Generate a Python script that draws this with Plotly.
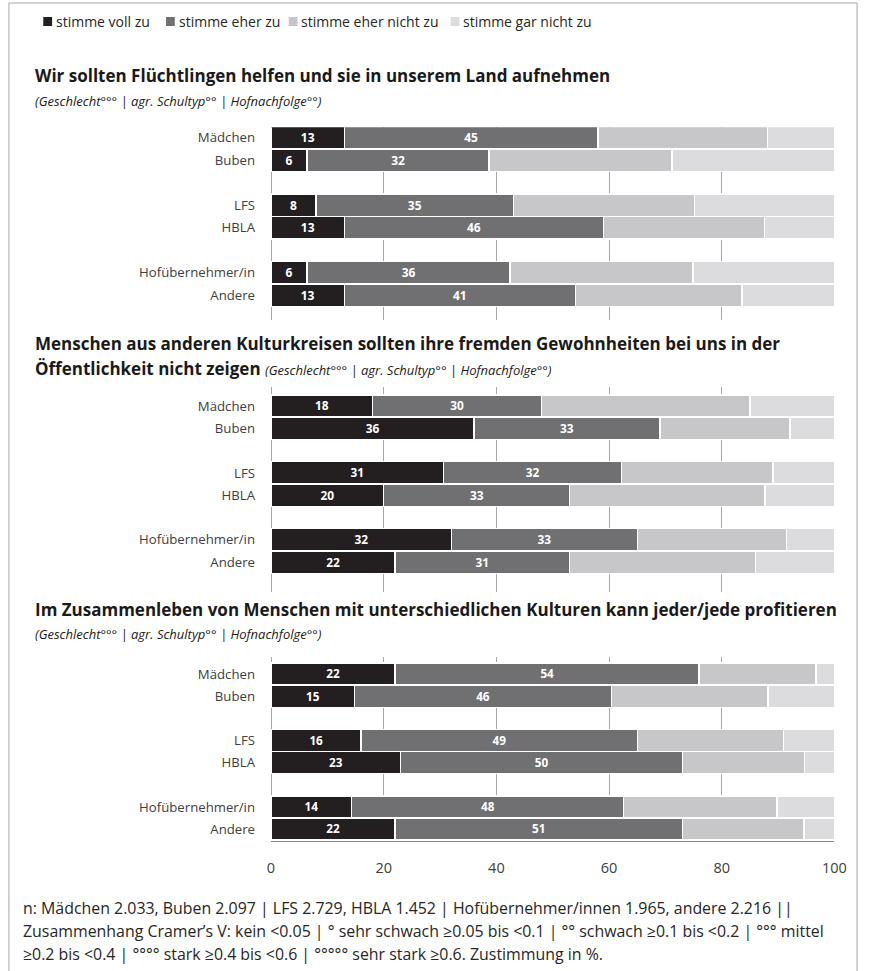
import plotly.graph_objects as go

W, H = 871, 971

categories = ["Mädchen", "Buben", "LFS", "HBLA", "Hofübernehmer/in", "Andere"]
row_pos = [0, 1, 3, 4, 6, 7]
series_names = ["stimme voll zu", "stimme eher zu", "stimme eher nicht zu", "stimme gar nicht zu"]
colors = ["#231F20", "#707073", "#C7C7C9", "#DCDCDE"]
x_ticks = [0, 20, 40, 60, 80, 100]

# Panel 1: Wir sollten Flüchtlingen helfen ...
p1_voll = [13, 6.4, 8, 13, 6.4, 13]
p1_eher = [45, 32.3, 35, 46, 36, 41]
p1_eher_nicht = [30.1, 32.5, 32.2, 28.6, 32.5, 29.6]
p1_gar_nicht = [11.9, 28.8, 24.8, 12.4, 25.1, 16.4]

# Panel 2: Menschen aus anderen Kulturkreisen ...
p2_voll = [18, 36, 30.6, 20, 32, 22]
p2_eher = [30, 33, 31.6, 33, 33, 31]
p2_eher_nicht = [37, 23.1, 26.9, 34.7, 26.5, 33]
p2_gar_nicht = [15, 7.9, 10.9, 12.3, 8.5, 14]

# Panel 3: Im Zusammenleben ...
p3_voll = [22, 14.8, 16, 23, 14.3, 22]
p3_eher = [54, 45.6, 49, 50, 48.3, 51]
p3_eher_nicht = [20.7, 27.8, 26, 21.7, 27.2, 21.6]
p3_gar_nicht = [3.3, 11.8, 9, 5.3, 10.2, 5.4]

panels = [
    [p1_voll, p1_eher, p1_eher_nicht, p1_gar_nicht],
    [p2_voll, p2_eher, p2_eher_nicht, p2_gar_nicht],
    [p3_voll, p3_eher, p3_eher_nicht, p3_gar_nicht],
]

FONT = "Open Sans"
TXT = "#262626"


def px(x):
    return x / W


def py(y):
    return 1 - y / H


fig = go.Figure()

for pi, panel in enumerate(panels):
    suffix = "" if pi == 0 else str(pi + 1)
    for si, vals in enumerate(panel):
        fig.add_trace(go.Bar(
            x=vals, y=row_pos, orientation="h",
            name=series_names[si], showlegend=False,
            marker=dict(color=colors[si], line=dict(color="white", width=1.5)),
            width=1.0,
            texttemplate="%{x:.0f}" if si < 2 else None,
            textposition="inside" if si < 2 else "none",
            insidetextanchor="middle", textangle=0,
            textfont=dict(family=FONT, size=16, color="white", weight="bold"),
            xaxis="x" + suffix, yaxis="y" + suffix,
            hoverinfo="x+y",
        ))

x_dom = [px(272), px(846)]
y_specs = [
    ([py(320), py(127.3)], [8.1, -0.47]),
    ([py(592), py(387)], [8.34, -0.85]),
    ([py(841), py(657)], [7.54, -0.77]),
]

layout = dict(
    width=W, height=H, autosize=False,
    margin=dict(l=0, r=0, t=0, b=0),
    paper_bgcolor="white", plot_bgcolor="white",
    barmode="stack",
    font=dict(family=FONT, color=TXT),
    showlegend=False,
)

for pi in range(3):
    suffix = "" if pi == 0 else str(pi + 1)
    dom, rng = y_specs[pi]
    last = pi == 2
    layout["xaxis" + suffix] = dict(
        domain=x_dom, range=[0, 100], anchor="y" + suffix,
        tickvals=x_ticks, showgrid=True, gridcolor="#A6A6A6", gridwidth=1,
        zeroline=True, zerolinecolor="#A6A6A6", zerolinewidth=1,
        showticklabels=last,
        showline=last, linecolor="#8C8C8C", linewidth=1,
        tickfont=dict(family=FONT, size=14.5, color="#404040"),
        ticks="", ticklabelstandoff=14,
    )
    layout["yaxis" + suffix] = dict(
        domain=dom, range=rng, anchor="x" + suffix,
        tickvals=row_pos, ticktext=categories,
        showgrid=False, zeroline=False, showline=False, ticks="",
        ticklabelstandoff=15,
        tickfont=dict(family=FONT, size=13.2, color="#404040"),
    )

fig.update_layout(**layout)

annotations = []
shapes = []

# legend (squares + labels)
leg_sq = [40, 165, 290, 455]
for i, name in enumerate(series_names):
    shapes.append(dict(
        type="rect", xref="paper", yref="paper",
        x0=px(leg_sq[i]), x1=px(leg_sq[i] + 9), y0=py(26), y1=py(17),
        fillcolor=colors[i], line=dict(width=0),
    ))
    annotations.append(dict(
        x=px(leg_sq[i] + 11), y=py(21), xref="paper", yref="paper",
        xanchor="left", yanchor="middle", showarrow=False,
        text=name, font=dict(family=FONT, size=14, color=TXT),
    ))

sub = "(Geschlecht°°° | agr. Schultyp°° | Hofnachfolge°°)"
TS = 17
SS = 13
titles = [
    (76, "<b>Wir sollten Flüchtlingen helfen und sie in unserem Land aufnehmen</b>", TS),
    (101, f"<i>{sub}</i>", SS),
    (343, "<b>Menschen aus anderen Kulturkreisen sollten ihre fremden Gewohnheiten bei uns in der</b>", TS),
    (368, f"<b>Öffentlichkeit nicht zeigen</b> <i><span style='font-size:{SS}px'>{sub}</span></i>", TS),
    (609, "<b>Im Zusammenleben von Menschen mit unterschiedlichen Kulturen kann jeder/jede profitieren</b>", TS),
    (634, f"<i>{sub}</i>", SS),
]
for y, t, s in titles:
    annotations.append(dict(
        x=px(30), y=py(y), xref="paper", yref="paper",
        xanchor="left", yanchor="middle", showarrow=False,
        text=t, font=dict(family=FONT, size=s, color="#1A1A1A"),
    ))

notes = [
    (908, "n: Mädchen 2.033, Buben 2.097 | LFS 2.729, HBLA 1.452 | Hofübernehmer/innen 1.965, andere 2.216 ||"),
    (931, "Zusammenhang Cramer’s V: kein <0.05 | ° sehr schwach ≥0.05 bis <0.1 | °° schwach ≥0.1 bis <0.2 | °°° mittel"),
    (954, "≥0.2 bis <0.4 | °°°° stark ≥0.4 bis <0.6 | °°°°° sehr stark ≥0.6. Zustimmung in %."),
]
for y, t in notes:
    annotations.append(dict(
        x=px(17), y=py(y), xref="paper", yref="paper",
        xanchor="left", yanchor="middle", showarrow=False,
        text=t, font=dict(family=FONT, size=15.9, color=TXT),
    ))

# frame
frame = dict(color="#A6A6A6", width=1)
shapes.append(dict(type="line", xref="paper", yref="paper", x0=px(5), x1=px(869), y0=py(3), y1=py(3), line=frame))
shapes.append(dict(type="line", xref="paper", yref="paper", x0=px(5), x1=px(5), y0=py(3), y1=0, line=frame))
shapes.append(dict(type="line", xref="paper", yref="paper", x0=px(869), x1=px(869), y0=py(3), y1=0, line=frame))

fig.update_layout(annotations=annotations, shapes=shapes)

fig.write_html(
    "out.html",
    config={"displayModeBar": False, "responsive": False},
    post_script=(
        "document.body.style.margin='0';"
        "document.documentElement.style.overflow='hidden';"
        "var gd=document.getElementById('{plot_id}');"
        "gd.style.width='871px';gd.style.height='971px';"
        "Plotly.relayout(gd,{width:871,height:971});"
    ),
)
